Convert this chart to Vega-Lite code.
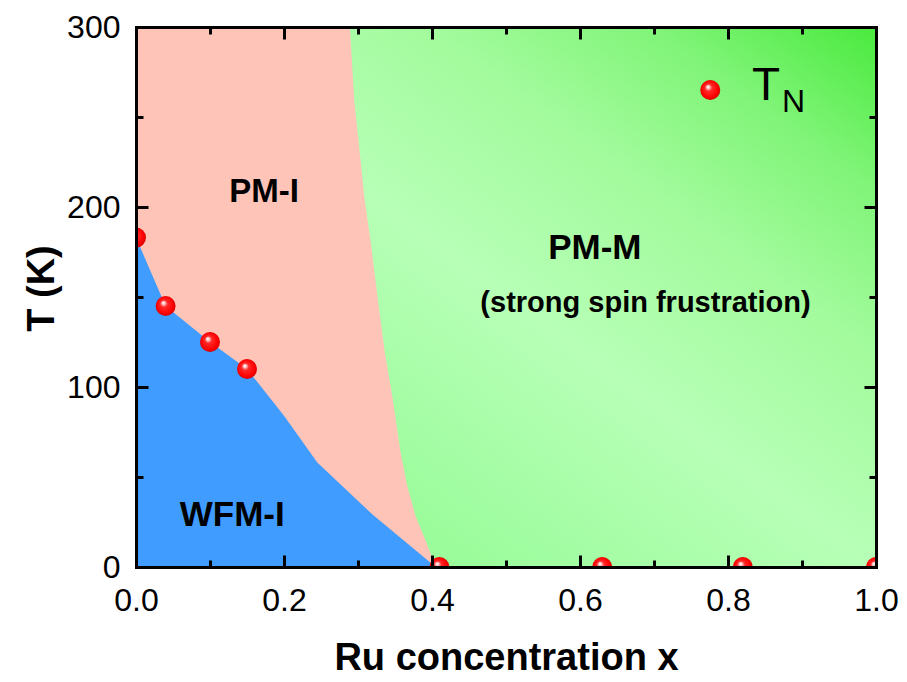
{
  "$schema": "https://vega.github.io/schema/vega-lite/v6.json",
  "width": 740,
  "height": 540,
  "autosize": {"type": "none"},
  "padding": {"left": 136, "top": 27, "right": 31, "bottom": 115},
  "background": "white",
  "config": {
    "view": {"stroke": null},
    "font": "Liberation Sans",
    "axis": {
      "domainColor": "black",
      "domainWidth": 3,
      "domainCap": "square",
      "tickColor": "black",
      "tickWidth": 3,
      "grid": false,
      "labelFont": "Liberation Sans",
      "labelFontSize": 32,
      "labelColor": "black",
      "titleFont": "Liberation Sans",
      "titleFontSize": 38,
      "titleFontWeight": "bold",
      "titleColor": "black"
    }
  },
  "datasets": {
    "wfm": [
      {"x": 0.0, "T": 183},
      {"x": 0.04, "T": 145},
      {"x": 0.1, "T": 125},
      {"x": 0.15, "T": 110},
      {"x": 0.2, "T": 84},
      {"x": 0.245, "T": 58},
      {"x": 0.32, "T": 29},
      {"x": 0.405, "T": 0}
    ],
    "pmi": [
      {"x": 0.0, "T": 300},
      {"x": 0.289, "T": 300},
      {"x": 0.295, "T": 259},
      {"x": 0.309, "T": 204},
      {"x": 0.318, "T": 178},
      {"x": 0.327, "T": 148},
      {"x": 0.336, "T": 120},
      {"x": 0.347, "T": 93},
      {"x": 0.357, "T": 65},
      {"x": 0.366, "T": 46},
      {"x": 0.378, "T": 28},
      {"x": 0.393, "T": 13},
      {"x": 0.405, "T": 0}
    ],
    "tn": [
      {"x": 0.0, "T": 183},
      {"x": 0.04, "T": 145},
      {"x": 0.1, "T": 125},
      {"x": 0.15, "T": 110},
      {"x": 0.41, "T": 0},
      {"x": 0.63, "T": 0},
      {"x": 0.82, "T": 0},
      {"x": 1.0, "T": 0}
    ]
  },
  "layer": [
    {
      "data": {"values": [{"region": "PM-M"}]},
      "mark": {
        "type": "rect",
        "fill": {
          "gradient": "linear",
          "x1": 0, "y1": 1, "x2": 1, "y2": 0,
          "stops": [
            {"offset": 0, "color": "#8ef88e"},
            {"offset": 0.2, "color": "#98fc98"},
            {"offset": 0.5, "color": "#b7ffb7"},
            {"offset": 0.7, "color": "#a2fb9c"},
            {"offset": 0.85, "color": "#80f478"},
            {"offset": 1, "color": "#4aea3e"}
          ]
        }
      },
      "encoding": {
        "x": {
          "datum": 0, "type": "quantitative",
          "scale": {"domain": [0, 1], "nice": false, "zero": false},
          "axis": {
            "orient": "bottom",
            "zindex": 2,
            "values": [0, 0.2, 0.4, 0.6, 0.8, 1.0],
            "format": ".1f",
            "tickSize": -12,
            "labelPadding": 55,
            "labelBaseline": "alphabetic",
            "labelFlush": false,
            "title": "Ru concentration x",
            "titleBaseline": "alphabetic",
            "titleY": 102
          }
        },
        "x2": {"datum": 1},
        "y": {
          "datum": 0, "type": "quantitative",
          "scale": {"domain": [0, 300], "nice": false},
          "axis": {
            "orient": "left",
            "zindex": 2,
            "values": [0, 100, 200, 300],
            "tickSize": -12,
            "labelPadding": 28,
            "labelFlush": false,
            "title": "T (K)",
            "titleAngle": -90,
            "titleBaseline": "alphabetic",
            "titleAlign": "center",
            "titleX": -83,
            "titleY": 261
          }
        },
        "y2": {"datum": 300}
      }
    },
    {
      "data": {"name": "pmi"},
      "mark": {"type": "area", "color": "#ffc4b8", "clip": true},
      "encoding": {
        "x": {
          "field": "x", "type": "quantitative",
          "axis": {
            "orient": "bottom",
            "zindex": 2,
            "values": [0.1, 0.3, 0.5, 0.7, 0.9],
            "tickSize": -7,
            "labels": false,
            "domain": false,
            "title": null
          }
        },
        "y": {
          "field": "T", "type": "quantitative",
          "axis": {
            "orient": "left",
            "zindex": 2,
            "values": [50, 150, 250],
            "tickSize": -7,
            "labels": false,
            "domain": false,
            "title": null
          }
        }
      }
    },
    {
      "data": {"name": "wfm"},
      "mark": {"type": "area", "color": "#409cff", "clip": true},
      "encoding": {
        "x": {
          "field": "x", "type": "quantitative",
          "axis": {
            "orient": "top",
            "zindex": 2,
            "values": [0, 0.2, 0.4, 0.6, 0.8, 1.0],
            "tickSize": -12,
            "labels": false,
            "title": null
          }
        },
        "y": {
          "field": "T", "type": "quantitative",
          "axis": {
            "orient": "right",
            "zindex": 2,
            "values": [0, 100, 200, 300],
            "tickSize": -12,
            "labels": false,
            "title": null
          }
        }
      }
    },
    {
      "data": {"name": "tn"},
      "mark": {
        "type": "point",
        "filled": true,
        "size": 400,
        "opacity": 1,
        "clip": true,
        "fill": {
          "gradient": "radial",
          "x1": 0.38, "y1": 0.33, "r1": 0,
          "x2": 0.5, "y2": 0.5, "r2": 0.55,
          "stops": [
            {"offset": 0, "color": "#ffffff"},
            {"offset": 0.12, "color": "#ffd6d6"},
            {"offset": 0.32, "color": "#ff2a2a"},
            {"offset": 0.75, "color": "#ff0000"},
            {"offset": 1, "color": "#c40000"}
          ]
        }
      },
      "encoding": {
        "x": {
          "field": "x", "type": "quantitative",
          "axis": {
            "orient": "top",
            "zindex": 2,
            "values": [0.1, 0.3, 0.5, 0.7, 0.9],
            "tickSize": -7,
            "labels": false,
            "domain": false,
            "title": null
          }
        },
        "y": {
          "field": "T", "type": "quantitative",
          "axis": {
            "orient": "right",
            "zindex": 2,
            "values": [50, 150, 250],
            "tickSize": -7,
            "labels": false,
            "domain": false,
            "title": null
          }
        }
      }
    },
    {
      "data": {"values": [{"legend": "TN"}]},
      "mark": {
        "type": "point",
        "filled": true,
        "size": 400,
        "opacity": 1,
        "fill": {
          "gradient": "radial",
          "x1": 0.38, "y1": 0.33, "r1": 0,
          "x2": 0.5, "y2": 0.5, "r2": 0.55,
          "stops": [
            {"offset": 0, "color": "#ffffff"},
            {"offset": 0.12, "color": "#ffd6d6"},
            {"offset": 0.32, "color": "#ff2a2a"},
            {"offset": 0.75, "color": "#ff0000"},
            {"offset": 1, "color": "#c40000"}
          ]
        }
      },
      "encoding": {
        "x": {"datum": 0.776, "type": "quantitative", "axis": null},
        "y": {"datum": 265, "type": "quantitative", "axis": null}
      }
    },
    {
      "data": {"values": [{"legend": "TN"}]},
      "mark": {"type": "text", "text": "T", "fontSize": 46, "align": "left", "baseline": "alphabetic", "color": "black"},
      "encoding": {
        "x": {"datum": 0.8324, "type": "quantitative", "axis": null},
        "y": {"datum": 259.3, "type": "quantitative", "axis": null}
      }
    },
    {
      "data": {"values": [{"legend": "TN"}]},
      "mark": {"type": "text", "text": "N", "fontSize": 32, "align": "left", "baseline": "alphabetic", "color": "black"},
      "encoding": {
        "x": {"datum": 0.873, "type": "quantitative", "axis": null},
        "y": {"datum": 252.6, "type": "quantitative", "axis": null}
      }
    },
    {
      "data": {"values": [{"label": "PM-I"}]},
      "mark": {"type": "text", "fontSize": 33, "fontWeight": "bold", "align": "center", "baseline": "alphabetic", "color": "black"},
      "encoding": {
        "text": {"field": "label"},
        "x": {"datum": 0.173, "type": "quantitative", "axis": null},
        "y": {"datum": 202.6, "type": "quantitative", "axis": null}
      }
    },
    {
      "data": {"values": [{"label": "WFM-I"}]},
      "mark": {"type": "text", "fontSize": 35, "fontWeight": "bold", "align": "center", "baseline": "alphabetic", "color": "black"},
      "encoding": {
        "text": {"field": "label"},
        "x": {"datum": 0.130, "type": "quantitative", "axis": null},
        "y": {"datum": 22.8, "type": "quantitative", "axis": null}
      }
    },
    {
      "data": {"values": [{"label": "PM-M"}]},
      "mark": {"type": "text", "fontSize": 35, "fontWeight": "bold", "align": "center", "baseline": "alphabetic", "color": "black"},
      "encoding": {
        "text": {"field": "label"},
        "x": {"datum": 0.62, "type": "quantitative", "axis": null},
        "y": {"datum": 171.3, "type": "quantitative", "axis": null}
      }
    },
    {
      "data": {"values": [{"label": "(strong spin frustration)"}]},
      "mark": {"type": "text", "fontSize": 29, "fontWeight": "bold", "align": "center", "baseline": "alphabetic", "color": "black"},
      "encoding": {
        "text": {"field": "label"},
        "x": {"datum": 0.6885, "type": "quantitative", "axis": null},
        "y": {"datum": 141.6, "type": "quantitative", "axis": null}
      }
    }
  ],
  "resolve": {"axis": {"x": "independent", "y": "independent"}}
}
